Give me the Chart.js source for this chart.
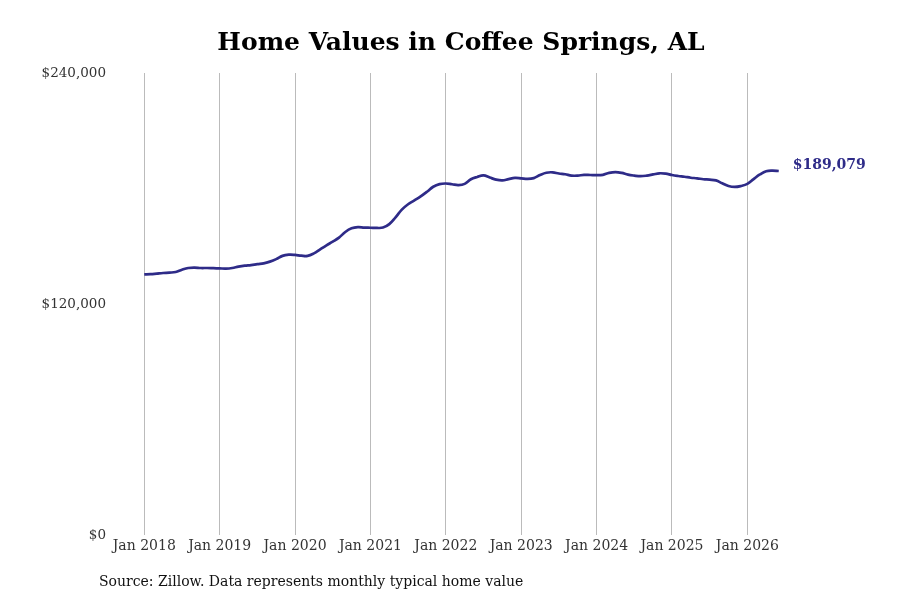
<!DOCTYPE html>
<html>
<head>
<meta charset="utf-8">
<script src="https://cdn.jsdelivr.net/npm/chart.js@4.4.1/dist/chart.umd.min.js"></script>
<style>
  html, body { margin: 0; padding: 0; background: #fff; }
  #wrap { width: 900px; height: 600px; }
</style>
</head>
<body>
<div id="wrap"><canvas id="chart"></canvas></div>
<script>
// monthly typical home value, Jan 2018 .. Jun 2026
const startYear = 2018;
const homeValues = [
  135400, 135500, 135800, 136100, 136300, 136600, 137800, 138700, 138900, 138700, 138700, 138600,
  138500, 138400, 138700, 139400, 139900, 140200, 140700, 141100, 142000, 143300, 145000, 145600,
  145500, 145100, 145000, 146300, 148400, 150500, 152400, 154500, 157400, 159300, 159900, 159700,
  159600, 159500, 159700, 161500, 165000, 169000, 171800, 173800, 175900, 178300, 180900, 182300,
  182600, 182200, 181800, 182400, 184800, 186000, 186800, 185700, 184600, 184200, 184900, 185500,
  185300, 185000, 185400, 187000, 188200, 188400, 187800, 187400, 186700, 186700, 187100, 187000,
  186900, 187100, 188100, 188500, 188100, 187200, 186700, 186400, 186700, 187300, 187900, 187700,
  187000, 186500, 186100, 185600, 185300, 184800, 184600, 184200, 182700, 181300, 180800, 181300,
  182400, 184900, 187300, 189000, 189300, 189079
];
const yearTicks = [0, 12, 24, 36, 48, 60, 72, 84, 96];
const yearLabels = ['Jan 2018', 'Jan 2019', 'Jan 2020', 'Jan 2021', 'Jan 2022', 'Jan 2023', 'Jan 2024', 'Jan 2025', 'Jan 2026'];
const valueTicks = [0, 120000, 240000];

const lineColor = '#2e2b88';
const fmt = v => '$' + Math.round(v).toLocaleString('en-US');

const points = homeValues.map((v, i) => ({x: i, y: v}));

// last value label to the right of the line
const endLabel = {
  id: 'endLabel',
  afterDatasetsDraw(chart) {
    const meta = chart.getDatasetMeta(0);
    const last = meta.data[meta.data.length - 1];
    const ctx = chart.ctx;
    ctx.save();
    ctx.font = 'bold 14px "DejaVu Serif"';
    ctx.fillStyle = lineColor;
    ctx.textBaseline = 'middle';
    ctx.fillText(fmt(homeValues[homeValues.length - 1]), last.x + 14, last.y - 6);
    ctx.restore();
  }
};

const sourceNote = {
  id: 'sourceNote',
  afterDraw(chart) {
    const ctx = chart.ctx;
    ctx.save();
    ctx.font = '14px "DejaVu Serif"';
    ctx.fillStyle = '#111';
    ctx.textBaseline = 'middle';
    ctx.fillText('Source: Zillow. Data represents monthly typical home value', 99, 582);
    ctx.restore();
  }
};

new Chart(document.getElementById('chart'), {
  type: 'line',
  data: {
    datasets: [{
      data: points,
      borderColor: lineColor,
      borderWidth: 2.7,
      pointRadius: 0,
      tension: 0.4,
      fill: false
    }]
  },
  options: {
    responsive: true,
    maintainAspectRatio: false,
    animation: false,
    layout: { padding: { left: 22, right: 0, top: 0, bottom: 0 } },
    plugins: {
      legend: { display: false },
      tooltip: { enabled: false },
      title: {
        display: true,
        text: 'Home Values in Coffee Springs, AL',
        color: '#000',
        font: { family: '"DejaVu Serif"', size: 25, weight: 'bold' },
        padding: { top: 28, bottom: 15 }
      }
    },
    scales: {
      x: {
        type: 'linear',
        min: -4.5,
        max: 120.3,
        afterBuildTicks: s => { s.ticks = yearTicks.map(v => ({value: v})); },
        afterFit: s => { s.height = 65; },
        ticks: {
          autoSkip: false,
          maxRotation: 0,
          padding: 3,
          color: '#333',
          font: { family: '"DejaVu Serif"', size: 14 },
          callback: v => yearLabels[yearTicks.indexOf(v)]
        },
        grid: { color: '#bbbbbb', lineWidth: 1, drawTicks: false },
        border: { display: false }
      },
      y: {
        min: 0,
        max: 240000,
        afterBuildTicks: s => { s.ticks = valueTicks.map(v => ({value: v})); },
        afterFit: s => { s.width = 94; },
        ticks: {
          padding: 10,
          color: '#333',
          font: { family: '"DejaVu Serif"', size: 13.5 },
          callback: v => fmt(v)
        },
        grid: { display: false, drawTicks: false },
        border: { display: false }
      }
    }
  },
  plugins: [endLabel, sourceNote]
});
</script>
</body>
</html>
